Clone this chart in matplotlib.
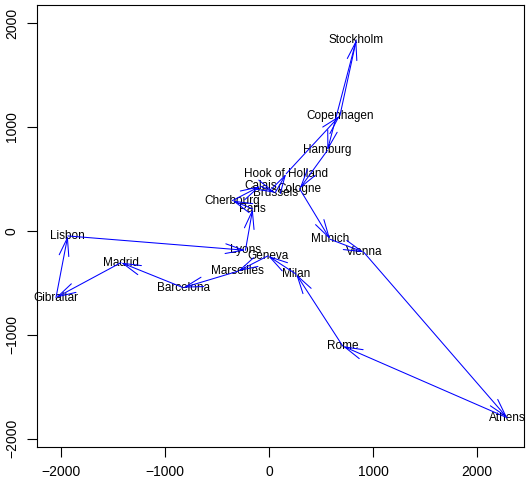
import matplotlib
matplotlib.use("Agg")
import matplotlib.pyplot as plt
import numpy as np

plt.rcParams['font.family'] = ['Liberation Sans', 'DejaVu Sans']

# classical MDS coordinates of eurodist (x, -y)
cities = ["Athens", "Barcelona", "Brussels", "Calais", "Cherbourg", "Cologne",
          "Copenhagen", "Geneva", "Gibraltar", "Hamburg", "Hook of Holland",
          "Lisbon", "Lyons", "Madrid", "Marseilles", "Milan", "Munich", "Paris",
          "Rome", "Stockholm", "Vienna"]
x = [2290.27, -825.38, 59.18, -82.85, -352.50, 293.69,
     681.93, -9.42, -2048.45, 561.11, 164.92,
     -1935.04, -226.42, -1423.35, -299.50, 260.88, 587.68, -156.84,
     709.41, 839.45, 911.23]
y = [-1798.80, -546.81, 367.08, 429.91, 290.91, 405.31,
     1108.64, -240.41, -642.46, 773.37, 549.37,
     -49.13, -187.09, -305.88, -388.81, -416.67, -81.18, 211.14,
     -1109.37, 1836.79, -205.93]

# tour order
tour = ["Lisbon", "Lyons", "Paris", "Cherbourg", "Calais", "Brussels",
        "Hook of Holland", "Copenhagen", "Stockholm", "Hamburg", "Cologne",
        "Munich", "Vienna", "Athens", "Rome", "Milan", "Geneva", "Marseilles",
        "Barcelona", "Madrid", "Gibraltar", "Lisbon"]

pos = {c: (x[i], y[i]) for i, c in enumerate(cities)}

fig = plt.figure(figsize=(5.26, 4.8), dpi=100)
ax = fig.add_axes([37/526, 33/480, (524-37)/526, (475-33)/480])

for c in cities:
    ax.text(pos[c][0], pos[c][1], c, ha='center', va='center', fontsize=8.5, color='black')

for a, b in zip(tour[:-1], tour[1:]):
    ax.annotate("", xy=pos[b], xytext=pos[a],
                arrowprops=dict(arrowstyle="->,head_length=1.3,head_width=0.35",
                                color='blue', lw=0.75, shrinkA=0, shrinkB=0,
                                mutation_scale=10))

ax.set_xlim(-2231, 2452)
ax.set_ylim(-2080, 2173)
ax.set_xticks([-2000, -1000, 0, 1000, 2000])
ax.set_yticks([-2000, -1000, 0, 1000, 2000])
ax.set_xticklabels(["\u22122000", "\u22121000", "0", "1000", "2000"])
ax.set_yticklabels(["\u22122000", "\u22121000", "0", "1000", "2000"], rotation=90, va='center')
ax.tick_params(labelsize=10, length=7, width=0.8, pad=6)
for s in ax.spines.values():
    s.set_linewidth(0.8)

plt.savefig("out.png", dpi=100)
